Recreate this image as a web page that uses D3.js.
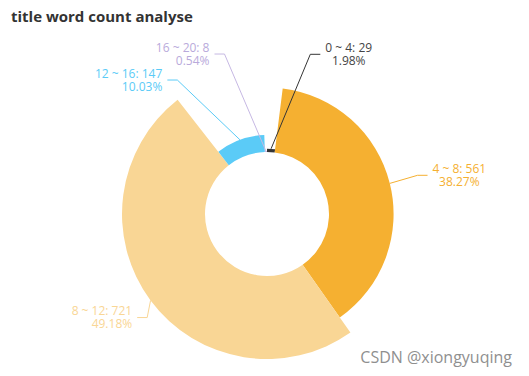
<!DOCTYPE html>
<html>
<head>
<meta charset="utf-8">
<script src="https://cdn.jsdelivr.net/npm/d3@7"></script>
<style>
  body { margin: 0; background: #fff; }
  svg { display: block; font-family: "Open Sans", "Noto Sans", sans-serif; }
</style>
</head>
<body>
<div id="container"></div>
<script>
// chart data
const categories = ["0 ~ 4", "4 ~ 8", "8 ~ 12", "12 ~ 16", "16 ~ 20"];
const counts = [29, 561, 721, 147, 8];
const colors = ["#353535", "#f5b031", "#f9d695", "#5bcbf7", "#c6b8e3"];
const labelColors = ["#444444", "#f5b031", "#f9d695", "#5bcbf7", "#b9aadb"];

const width = 529, height = 376;
const cx = 267, cy = 214;
const innerR = 62, outerR = 145;
const len = 15, len2 = 10, labelGap = 5, labelH = 26;

const svg = d3.select("#container").append("svg")
  .attr("width", width)
  .attr("height", height);

// title
svg.append("text")
  .attr("x", 11).attr("y", 22)
  .attr("font-size", 15).attr("font-weight", "bold")
  .attr("fill", "#333")
  .text("title word count analyse");

const total = d3.sum(counts);
const data = categories.map((c, i) => ({ name: c, value: counts[i], i }));

// percentages with largest remainder, so they add up to 100.00
function percents(vals, digits) {
  const scale = Math.pow(10, digits);
  const raw = vals.map(v => v / total * 100 * scale);
  const seats = raw.map(Math.floor);
  let left = 100 * scale - d3.sum(seats);
  const order = raw.map((v, i) => [v - seats[i], i]).sort((a, b) => b[0] - a[0]);
  for (let k = 0; k < order.length && left > 0; k++, left--) seats[order[k][1]] += 1;
  return seats.map(s => (s / scale).toFixed(digits));
}
const pct = percents(counts, 2);

const pie = d3.pie().value(d => d.value).sort(null);
const arcs = pie(data);

// rose: radius by value
const rScale = d3.scaleLinear().domain([0, d3.max(counts)]).range([innerR, outerR]);
const arcGen = d3.arc().innerRadius(innerR).outerRadius(d => rScale(d.data.value));

const g = svg.append("g").attr("transform", `translate(${cx},${cy})`);
g.selectAll("path")
  .data(arcs)
  .join("path")
  .attr("d", arcGen)
  .attr("fill", d => colors[d.data.i]);

// label layout, pushed apart like echarts does it
let labels = arcs.map(d => {
  const a = (d.startAngle + d.endAngle) / 2;
  const dx = Math.sin(a), dy = -Math.cos(a);
  const ri = rScale(d.data.value);
  const x1 = cx + ri * dx, y1 = cy + ri * dy;
  const x2 = cx + (outerR + len) * dx, y2 = cy + (outerR + len) * dy;
  const dir = dx < 0 ? -1 : 1;
  const x3 = x2 + dir * len2;
  return {
    d, dir, x: x3 + dir * labelGap, y: y2, height: labelH,
    points: [[x1, y1], [x2, y2], [x3, y2]]
  };
});

function adjustSide(list, dir) {
  list.sort((a, b) => a.y - b.y);
  function shiftUp(end, delta) {
    for (let j = end; j >= 0; j--) {
      if (list[j].y - delta < 0) break;
      list[j].y -= delta;
      if (j > 0 && list[j].y > list[j - 1].y + list[j - 1].height) break;
    }
  }
  function shiftDown(start, end, delta) {
    for (let j = start; j < end; j++) {
      if (list[j].y + delta > height) break;
      list[j].y += delta;
      if (j > start && j + 1 < end && list[j + 1].y > list[j].y + list[j].height) {
        shiftUp(j, delta / 2);
        return;
      }
    }
    shiftUp(end - 1, delta / 2);
  }
  let lastY = 0;
  list.forEach((l, i) => {
    const delta = l.y - lastY;
    if (delta < 0) shiftDown(i, list.length, -delta);
    lastY = l.y + l.height;
  });
  const up = list.filter(l => l.y < cy), down = list.filter(l => l.y >= cy);
  function changeX(items, isDown) {
    let last = isDown ? Infinity : 0;
    items.forEach(l => {
      const dyy = Math.abs(l.y - cy);
      let dxx = dyy < outerR + len
        ? Math.sqrt((outerR + len + len2) ** 2 - dyy * dyy)
        : Math.abs(l.x - cx);
      if (isDown && dxx >= last) dxx = last - 10;
      if (!isDown && dxx <= last) dxx = last + 10;
      l.x = cx + dxx * dir;
      last = dxx;
    });
  }
  changeX(up, false);
  changeX(down.reverse(), true);
}
adjustSide(labels.filter(l => l.dir > 0), 1);
adjustSide(labels.filter(l => l.dir < 0), -1);
labels.forEach(l => {
  const p = l.points;
  const dist = p[1][0] - p[2][0];
  p[2][0] = l.x - l.dir * labelGap;
  p[1][0] = p[2][0] + dist;
  p[1][1] = p[2][1] = l.y;
});

const line = d3.line();
svg.append("g").selectAll("path")
  .data(labels)
  .join("path")
  .attr("d", l => line(l.points))
  .attr("fill", "none")
  .attr("stroke", l => colors[l.d.data.i])
  .attr("stroke-width", 1);

// two-line labels as one text with tspans
svg.append("g").selectAll("text")
  .data(labels)
  .join("text")
  .attr("fill", l => labelColors[l.d.data.i])
  .attr("font-size", 12)
  .each(function (l) {
    const t = d3.select(this);
    const first = t.append("tspan")
      .attr("x", l.x).attr("y", l.y - 2.5)
      .attr("text-anchor", l.dir > 0 ? "start" : "end")
      .text(`${l.d.data.name}: ${l.d.data.value}`);
    const w = first.node().getComputedTextLength();
    t.append("tspan")
      .attr("x", l.dir > 0 ? l.x + w / 2 : l.x)
      .attr("y", l.y + 10.5)
      .attr("text-anchor", l.dir > 0 ? "middle" : "end")
      .text(`${pct[l.d.data.i]}%`);
  });

// watermark
svg.append("text")
  .attr("x", 512).attr("y", 363)
  .attr("text-anchor", "end")
  .attr("font-size", 16)
  .attr("fill", "#8f8f8f")
  .text("CSDN @xiongyuqing");
</script>
</body>
</html>
